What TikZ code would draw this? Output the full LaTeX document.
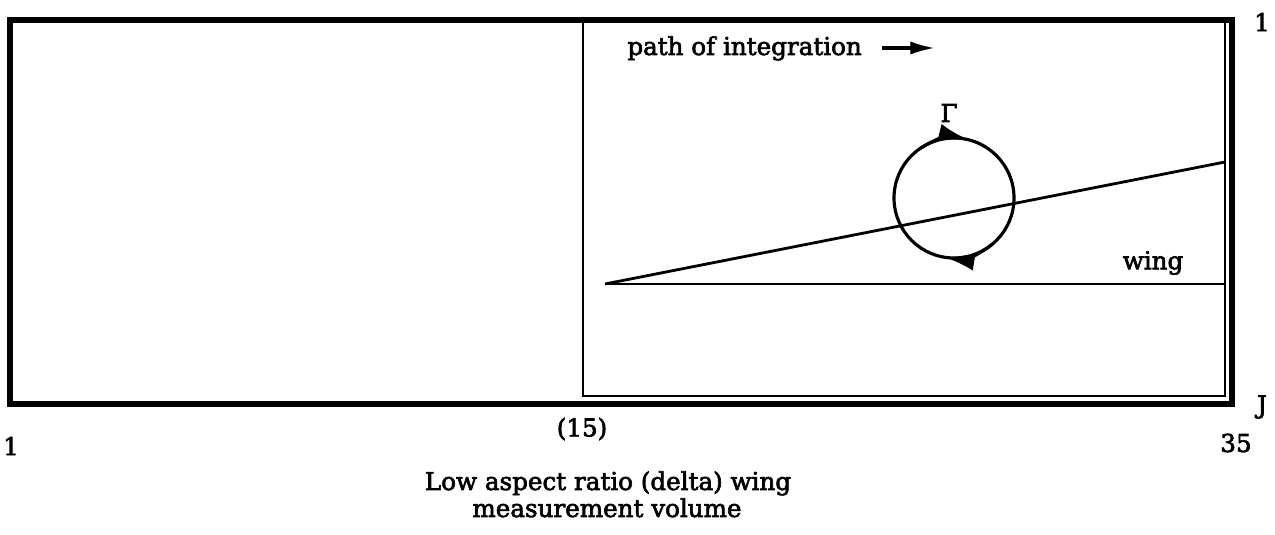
\documentclass[tikz,border=0pt]{standalone}
\usepackage{fontspec}
\setmainfont{DejaVu Serif}
\newfontfamily\labelfont[FakeBold=2.5]{DejaVu Serif}
\usetikzlibrary{arrows.meta}
\tikzset{
	frame/.style={line width=3.4pt},
	box/.style={line width=1.6pt},
	wingline/.style={line width=1.6pt},
	lbl/.style={inner sep=0pt, font=\labelfont\fontsize{14}{16}\selectfont},
	tip/.style={-{Latex[length=14pt,width=7.5pt]}, line width=1.8pt},
	flow/.style={line width=1.8pt},
	flowtip/.style={-{Latex[length=17pt,width=10pt]}, line width=1.8pt},
}
\begin{document}
\begin{tikzpicture}[x=0.2mm, y=0.2mm]
		\useasboundingbox (0, 0) rectangle (1275, 535);
		% measurement volume and integration box
		\draw[box] (583, 139) rectangle (1225, 513);
		\draw[frame] (10, 131) rectangle (1232, 515);
		% wing
		\coordinate (apex) at (605, 251);
		\coordinate (edge) at (1225, 373);
		\coordinate (root) at (1225, 251);
		\draw[wingline] (apex) -- (edge);
		\draw[wingline] (apex) -- (root);
		\node[lbl] (wing) at (1153, 272) {wing};
		% circulation contour
		\coordinate (ctr) at (954, 337);
		\draw[flow] (ctr) circle[radius=60];
		\draw[flowtip] (ctr) ++(125:60) arc[start angle=125, end angle=76, radius=60];
		\draw[flowtip] (ctr) ++(310:60) arc[start angle=310, end angle=261, radius=60];
		\node[lbl] (gamma) at (949, 422) {Γ};
		% path label
		\node[lbl, anchor=base west] (path) at (627, 480) {path of integration};
		\coordinate (pathstart) at (882, 487);
		\coordinate (pathend) at (935, 487);
		\draw[tip] (pathstart) -- (pathend);
		% indices
		\node[lbl] (itop) at (1262, 513) {1};
		\node[lbl] (jbot) at (1262, 128) {J};
		\node[lbl] (ione) at (11, 89) {1};
		\node[lbl] (imid) at (582, 106) {(15)};
		\node[lbl] (iend) at (1236, 92) {35};
		% caption
		\node[lbl, anchor=base] (cap1) at (608, 45) {Low aspect ratio (delta) wing};
		\node[lbl, anchor=base] (cap2) at (607, 18) {measurement volume};
	\end{tikzpicture}
\end{document}
